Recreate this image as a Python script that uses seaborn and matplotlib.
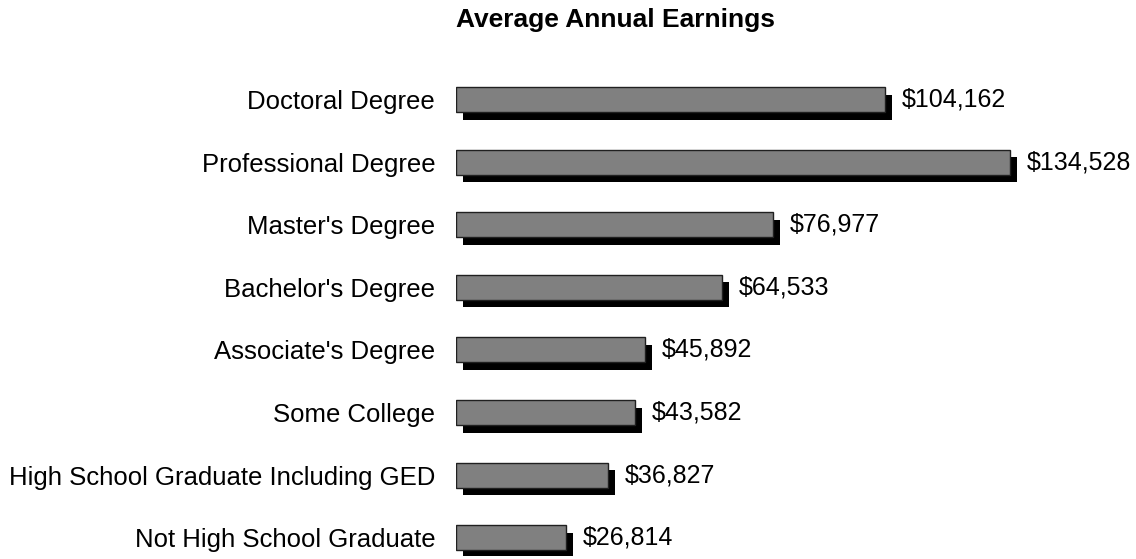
import matplotlib
matplotlib.use("Agg")
import matplotlib.pyplot as plt
import matplotlib.patheffects as pe
import seaborn as sns
import pandas as pd

# education level and average annual earnings (USD)
levels = ["Doctoral Degree", "Professional Degree", "Master's Degree",
          "Bachelor's Degree", "Associate's Degree", "Some College",
          "High School Graduate Including GED", "Not High School Graduate"]
earnings = [104162, 134528, 76977, 64533, 45892, 43582, 36827, 26814]

df = pd.DataFrame({"level": levels, "earnings": earnings})

sns.set_style("white")
plt.rcParams["font.family"] = ["Liberation Sans", "DejaVu Sans"]
plt.rcParams["text.color"] = "black"
plt.rcParams["ytick.color"] = "black"
plt.rcParams["ytick.labelcolor"] = "black"

fig = plt.figure(figsize=(11.36, 5.59), dpi=100)
ax = fig.add_axes([456 / 1136, 0.0045, 617.7 / 1136, 0.8959])

sns.barplot(data=df, x="earnings", y="level", orient="h", color="#808080",
            saturation=1, width=0.4, edgecolor="#202020", linewidth=1.0, ax=ax)

# drop shadow under each bar
for bar in ax.patches:
    bar.set_path_effects([pe.SimplePatchShadow(offset=(5, -5.5), shadow_rgbFace="black", alpha=1.0),
                          pe.Normal()])

ax.bar_label(ax.containers[0], labels=["${:,}".format(v) for v in earnings],
             padding=12, fontsize=18, color="black")

ax.set_xlim(0, 150000)
ax.set_ylim(7.3, -0.7)
ax.set_xlabel("")
ax.set_ylabel("")
ax.set_xticks([])
ax.tick_params(axis="y", length=0, pad=15, labelsize=18.5, labelcolor="black")
for s in ax.spines.values():
    s.set_visible(False)

fig.text(456 / 1136, 1 - 20 / 559, "Average Annual Earnings", ha="left", va="center",
         fontsize=19, fontweight="bold", color="black")

fig.savefig("out.png", dpi=100)
